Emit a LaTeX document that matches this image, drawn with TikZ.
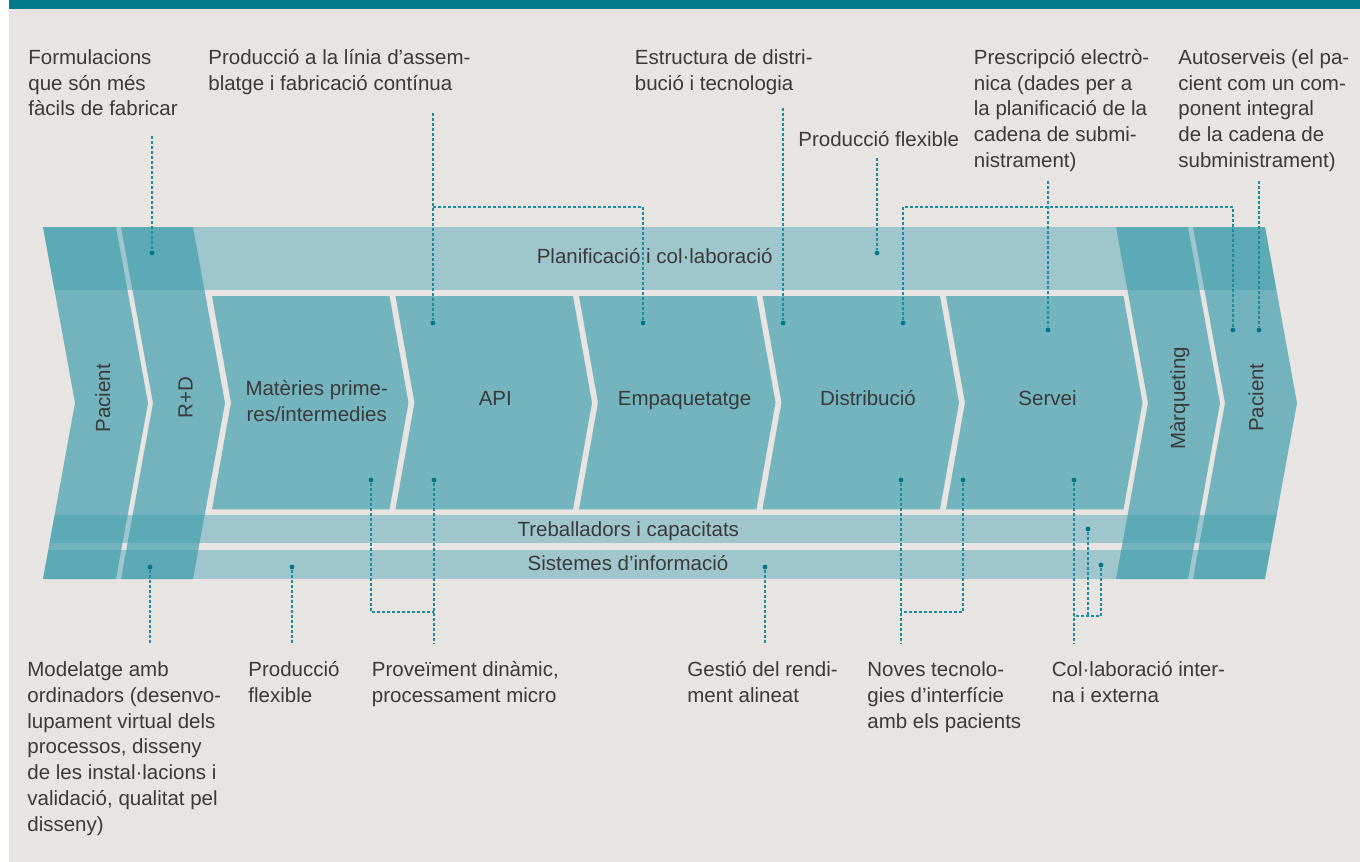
\documentclass[tikz,border=0pt]{standalone}
\usepackage{fontspec}
\setmainfont{Liberation Sans}
\usetikzlibrary{positioning}

\definecolor{paper}{RGB}{231,228,225}
\definecolor{header}{RGB}{0,122,139}
\definecolor{bandfill}{RGB}{159,198,205}
\definecolor{outerfill}{RGB}{65,159,175}
\definecolor{stagefill}{RGB}{116,180,190}
\definecolor{leadcol}{RGB}{28,140,158}
\definecolor{dotcol}{RGB}{0,118,135}
\definecolor{txt}{RGB}{58,58,58}

% first-line strut so every note hangs from the same top
\def\fl{\rule{0pt}{10pt}}

\begin{document}
\begin{tikzpicture}[x=0.5pt,y=-0.5pt,font=\fontsize{10.25pt}{12.85pt}\selectfont]
    \tikzstyle{outer} = [fill=outerfill,fill opacity=0.7]
    \tikzstyle{stage} = [fill=stagefill]
    \tikzstyle{label} = [text=txt,inner sep=0pt,anchor=base]
    \tikzstyle{side} = [label,rotate=90]
    \tikzstyle{note} = [text=txt,inner sep=0pt,anchor=north west,align=left]
    \tikzstyle{dot} = [circle,fill=dotcol,inner sep=0pt,minimum size=2.4pt]
    \tikzstyle{lead} = [draw=leadcol,line width=0.65pt,dash pattern=on 1.5pt off 1pt]

    \useasboundingbox (0,0) rectangle (1360,862);
    \fill[paper] (9,9) rectangle (1360,862);
    \fill[header] (9,0) rectangle (1360,9);

    %%% DRAW THE BANDS
    \begin{scope}
        \clip (43,227) -- (1265,227) -- (1297,403) -- (1265,579) -- (43,579) -- (75,403) -- cycle;
        \foreach \top/\bot in {227/290.3, 515.3/543.3, 550/579}
            \fill[bandfill] (0,\top) rectangle (1360,\bot);
    \end{scope}

    %%% DRAW THE CHEVRONS
    \foreach \xl/\xr in {43/116, 121/193, 1116/1188, 1193/1265}
        \fill[outer] (\xl,227) -- (\xr,227) -- (\xr+32,403) -- (\xr,579) -- (\xl,579) -- (\xl+32,403) -- cycle;
    \foreach \xl/\xr in {212/389.5, 395.5/573, 579/756.5, 762.5/940, 946/1123.5}
        \fill[stage] (\xl,296) -- (\xr,296) -- (\xr+19,402.7) -- (\xr,509.3) -- (\xl,509.3) -- (\xl+19,402.7) -- cycle;

    %%% LABELS
    \node[label] (plan) at (654.7,263) {Planificació i col·laboració};
    \node[label] (treb) at (628.3,536.7) {Treballadors i capacitats};
    \node[label] (sist) at (628,570.7) {Sistemes d’informació};
    \node[label,anchor=north,align=center] (mat) at (316.7,375) {\fl Matèries prime-\\res/intermedies};
    \node[label] (api) at (495.3,405.7) {API};
    \node[label] (emp) at (684.5,405.7) {Empaquetatge};
    \node[label] (dist) at (868,405.7) {Distribució};
    \node[label] (serv) at (1047.5,405.7) {Servei};
    \node[side] (pac-l) at (110,398.3) {Pacient};
    \node[side] (rd) at (192.7,397.5) {R+D};
    \node[side] (mark) at (1185,398.3) {Màrqueting};
    \node[side] (pac-r) at (1263.3,397.5) {Pacient};

    %%% NOTES
    \node[note] (n-form) at (28,44) {\fl Formulacions\\que són més\\fàcils de fabricar};
    \node[note] (n-asm) at (208,44) {\fl Producció a la línia d’assem-\\blatge i fabricació contínua};
    \node[note] (n-estr) at (634.5,44) {\fl Estructura de distri-\\bució i tecnologia};
    \node[note] (n-flex) at (798,126.4) {\fl Producció flexible};
    \node[note] (n-presc) at (973.5,44) {\fl Prescripció electrò-\\nica (dades per a\\la planificació de la\\cadena de submi-\\nistrament)};
    \node[note] (n-auto) at (1178,44) {\fl Autoserveis (el pa-\\cient com un com-\\ponent integral\\de la cadena de\\subministrament)};
    \node[note] (n-model) at (27,656.4) {\fl Modelatge amb\\ordinadors (desenvo-\\lupament virtual dels\\processos, disseny\\de les instal·lacions i\\validació, qualitat pel\\disseny)};
    \node[note] (n-flexb) at (248,656.4) {\fl Producció\\flexible};
    \node[note] (n-prov) at (371.5,656.4) {\fl Proveïment dinàmic,\\processament micro};
    \node[note] (n-gest) at (687,656.4) {\fl Gestió del rendi-\\ment alineat};
    \node[note] (n-nov) at (867,656.4) {\fl Noves tecnolo-\\gies d’interfície\\amb els pacients};
    \node[note] (n-col) at (1051.5,656.4) {\fl Col·laboració inter-\\na i externa};

    %%% DOTS
    \foreach \name/\x/\y in {form/152/253, api/433/323, emp/643/323, estr/783/323, flex/877/253,
        presc/1048/330, distt/903/323, pacr/1233/330, auto/1259/330, model/150/567, flexb/292/567,
        prov1/371/480, prov2/434/480, gest/765/567, nov1/901/480, nov2/963/480,
        col1/1074/480, col2/1088/529, col3/1101/565}
        \node[dot] (d-\name) at (\x,\y) {};

    %%% LEADER ENDS
    \coordinate (c-form) at (152,136);
    \coordinate (c-asm) at (433,113);
    \coordinate (b-asm) at (433,207);
    \coordinate (c-estr) at (783,108);
    \coordinate (c-flex) at (877,158);
    \coordinate (c-presc) at (1048,181);
    \coordinate (b-presc) at (1048,207);
    \coordinate (c-auto) at (1259,181);
    \coordinate (c-model) at (150,643);
    \coordinate (c-flexb) at (292,643);
    \coordinate (c-prov) at (434,643);
    \coordinate (b-prov) at (434,612);
    \coordinate (c-gest) at (765,643);
    \coordinate (c-nov) at (901,643);
    \coordinate (b-nov) at (901,612);
    \coordinate (c-col) at (1074,643);
    \coordinate (b-col) at (1074,616);
    \coordinate (b-col2) at (1088,616);

    %%% DRAW THE PATHS
    \draw[lead] (c-form) -- (d-form);
    \draw[lead] (c-asm) -- (d-api);
    \draw[lead] (b-asm) -| (d-emp);
    \draw[lead] (c-estr) -- (d-estr);
    \draw[lead] (c-flex) -- (d-flex);
    \draw[lead] (c-presc) -- (d-presc);
    \draw[lead] (d-distt) |- (b-presc) -| (d-pacr);
    \draw[lead] (c-auto) -- (d-auto);
    \draw[lead] (d-model) -- (c-model);
    \draw[lead] (d-flexb) -- (c-flexb);
    \draw[lead] (d-prov2) -- (c-prov);
    \draw[lead] (d-prov1) |- (b-prov);
    \draw[lead] (d-gest) -- (c-gest);
    \draw[lead] (d-nov1) -- (c-nov);
    \draw[lead] (d-nov2) |- (b-nov);
    \draw[lead] (d-col1) -- (c-col);
    \draw[lead] (d-col3) |- (b-col);
    \draw[lead] (d-col2) -- (b-col2);

\end{tikzpicture}
\end{document}
